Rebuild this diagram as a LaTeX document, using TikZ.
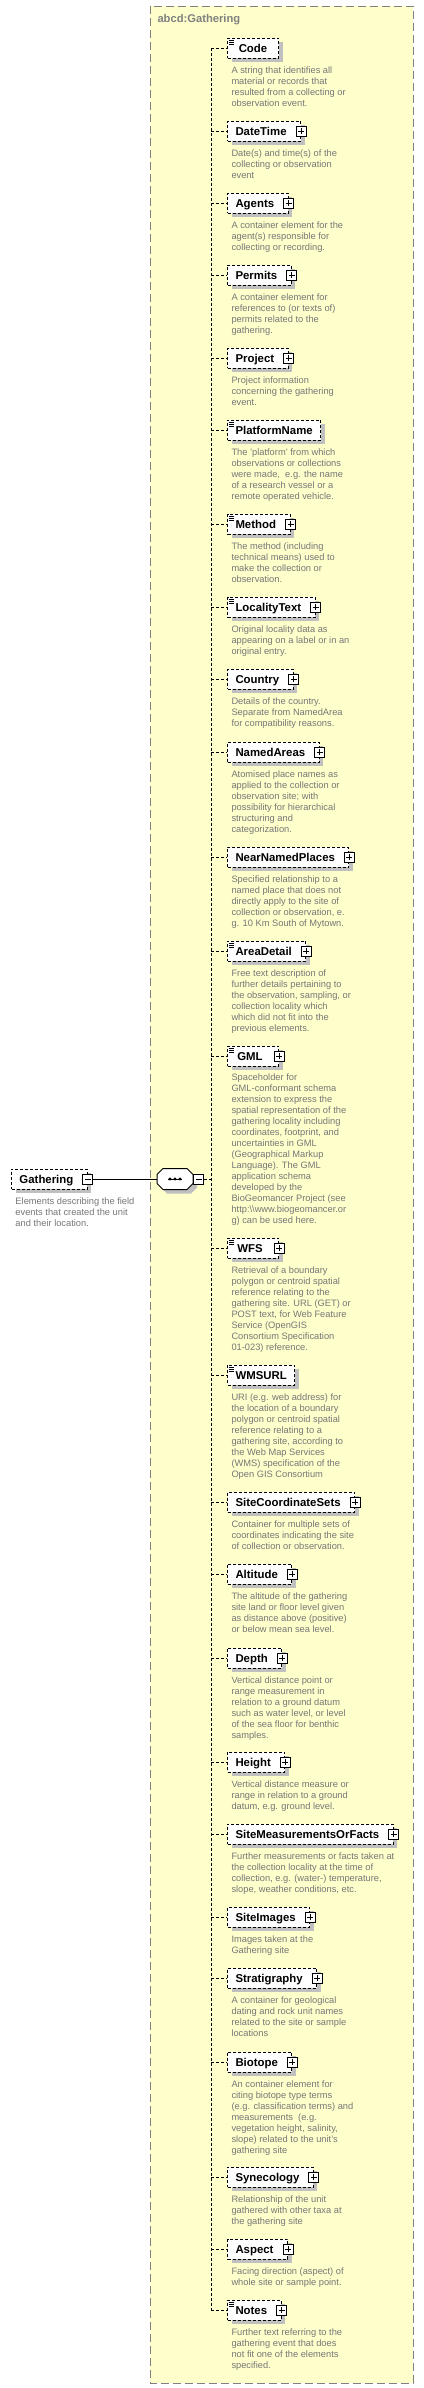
\documentclass[tikz,border=0pt]{standalone}
\usepackage{fontspec}
\setmainfont{Liberation Sans}
\usetikzlibrary{shadows}
\definecolor{boxyellow}{RGB}{255,255,204}
\definecolor{framegray}{RGB}{128,128,128}
\definecolor{descgray}{RGB}{118,118,118}
\definecolor{shadowgray}{RGB}{192,192,192}
\newcommand{\namefont}{\fontsize{11.4pt}{13pt}\selectfont\bfseries}
\newcommand{\descfont}{\fontsize{9.3pt}{11pt}\selectfont}
\begin{document}
\begin{tikzpicture}[x=1pt,y=-1pt,line width=1pt]
\tikzstyle{elembase}=[draw,dash pattern=on 3pt off 2pt,fill=white,anchor=west,minimum height=20pt,minimum width=51pt,inner sep=0pt,text height=8.5pt,text depth=0pt,font=\namefont,drop shadow={shadow xshift=4pt,shadow yshift=-4pt,fill=shadowgray,opacity=1},execute at begin node={\hspace*{8pt}}]
\tikzstyle{elem}=[elembase,execute at end node={\hspace*{8pt}}]
\tikzstyle{elemp}=[elembase,execute at end node={\hspace*{14pt}}]
\tikzstyle{simple}=[path picture={
  \draw[solid,line width=0.8pt] ([xshift=1pt,yshift=-2pt]path picture bounding box.north west) -- ++(5pt,0pt);
  \draw[solid,line width=0.8pt] ([xshift=1pt,yshift=-4pt]path picture bounding box.north west) -- ++(5pt,0pt);
  \draw[solid,line width=0.8pt] ([xshift=1pt,yshift=-6pt]path picture bounding box.north west) -- ++(5pt,0pt);}]
\tikzstyle{minusbox}=[draw,solid,fill=white,minimum size=10pt,inner sep=0pt,path picture={
  \draw[solid] ([xshift=2pt]path picture bounding box.west) -- ([xshift=-2pt]path picture bounding box.east);}]
\tikzstyle{plusbox}=[draw,solid,fill=white,minimum size=10pt,inner sep=0pt,path picture={
  \draw[solid] ([xshift=2pt]path picture bounding box.west) -- ([xshift=-2pt]path picture bounding box.east);
  \draw[solid] ([yshift=-2pt]path picture bounding box.north) -- ([yshift=2pt]path picture bounding box.south);}]
\tikzstyle{desc}=[anchor=north west,align=left,inner sep=0pt,text=descgray,font=\descfont,execute at begin node={\rule{0pt}{8pt}}]
\tikzstyle{branch}=[dash pattern=on 3pt off 2pt]
\tikzstyle{seq}=[minimum width=35pt,minimum height=20pt,inner sep=0pt,anchor=west]
\tikzstyle{title}=[anchor=base west,inner sep=0pt,text=framegray,font=\fontsize{11.2pt}{13pt}\selectfont\bfseries]

\useasboundingbox (0,0) rectangle (423,2388);
\draw[fill=boxyellow,draw=framegray,dash pattern=on 8pt off 4pt] (150,6) rectangle (413,2383);
\node[title] at (157,22.7) (title) {abcd:Gathering};

% the element itself
\node[elemp] at (11,1179) (gathering) {Gathering};
\node[minusbox] at (gathering.east) (gathering-m) {};
\node[desc] at (15,1197) (gathering-d) {Elements describing the field\\events that created the unit\\and their location.};

% sequence compositor
\node[seq] at (157,1179) (seq) {};
\fill[shadowgray,transform canvas={shift={(4pt,-4pt)}}] ([xshift=6pt]seq.north west) -- ([xshift=-6pt]seq.north east) -- ([yshift=-6pt]seq.north east) -- ([yshift=6pt]seq.south east) -- ([xshift=-6pt]seq.south east) -- ([xshift=6pt]seq.south west) -- ([yshift=6pt]seq.south west) -- ([yshift=-6pt]seq.north west) -- cycle;
\draw[fill=white] ([xshift=6pt]seq.north west) -- ([xshift=-6pt]seq.north east) -- ([yshift=-6pt]seq.north east) -- ([yshift=6pt]seq.south east) -- ([xshift=-6pt]seq.south east) -- ([xshift=6pt]seq.south west) -- ([yshift=6pt]seq.south west) -- ([yshift=-6pt]seq.north west) -- cycle;
\draw ([xshift=-7pt]seq.center) -- ([xshift=7pt]seq.center);
\fill ([xshift=-5pt]seq.center) circle (1.6pt);
\fill (seq.center) circle (1.6pt);
\fill ([xshift=5pt]seq.center) circle (1.6pt);
\node[minusbox,anchor=west] at (seq.east) (seq-m) {};

\coordinate (spine) at (211,1179);

% children
\node[elem,simple] at (227,48) (code) {Code};
\node[desc] at (231,66) (code-d) {A string that identifies all\\material or records that\\resulted from a collecting or\\observation event.};

\node[elemp] at (227,131) (datetime) {DateTime};
\node[plusbox] at (datetime.east) (datetime-p) {};
\node[desc] at (231,149) (datetime-d) {Date(s) and time(s) of the\\collecting or observation\\event};

\node[elemp] at (227,203) (agents) {Agents};
\node[plusbox] at (agents.east) (agents-p) {};
\node[desc] at (231,221) (agents-d) {A container element for the\\agent(s) responsible for\\collecting or recording.};

\node[elemp] at (227,275) (permits) {Permits};
\node[plusbox] at (permits.east) (permits-p) {};
\node[desc] at (231,293) (permits-d) {A container element for\\references to (or texts of)\\permits related to the\\gathering.};

\node[elemp] at (227,358) (project) {Project};
\node[plusbox] at (project.east) (project-p) {};
\node[desc] at (231,376) (project-d) {Project information\\concerning the gathering\\event.};

\node[elem,simple] at (227,430) (platformname) {PlatformName};
\node[desc] at (231,448) (platformname-d) {The 'platform' from which\\observations or collections\\were made,~ e.g. the name\\of a research vessel or a\\remote operated vehicle.};

\node[elemp,simple] at (227,524) (method) {Method};
\node[plusbox] at (method.east) (method-p) {};
\node[desc] at (231,542) (method-d) {The method (including\\technical means) used to\\make the collection or\\observation.};

\node[elemp,simple] at (227,607) (localitytext) {LocalityText};
\node[plusbox] at (localitytext.east) (localitytext-p) {};
\node[desc] at (231,625) (localitytext-d) {Original locality data as\\appearing on a label or in an\\original entry.};

\node[elemp] at (227,679) (country) {Country};
\node[plusbox] at (country.east) (country-p) {};
\node[desc] at (231,697) (country-d) {Details of the country.\\Separate from NamedArea\\for compatibility reasons.};

\node[elemp] at (227,752) (namedareas) {NamedAreas};
\node[plusbox] at (namedareas.east) (namedareas-p) {};
\node[desc] at (231,770) (namedareas-d) {Atomised place names as\\applied to the collection or\\observation site; with\\possibility for hierarchical\\structuring and\\categorization.};

\node[elemp] at (227,857) (nearnamedplaces) {NearNamedPlaces};
\node[plusbox] at (nearnamedplaces.east) (nearnamedplaces-p) {};
\node[desc] at (231,875) (nearnamedplaces-d) {Specified relationship to a\\named place that does not\\directly apply to the site of\\collection or observation, e.\\g. 10 Km South of Mytown.};

\node[elemp,simple] at (227,951) (areadetail) {AreaDetail};
\node[plusbox] at (areadetail.east) (areadetail-p) {};
\node[desc] at (231,969) (areadetail-d) {Free text description of\\further details pertaining to\\the observation, sampling, or\\collection locality which\\which did not fit into the\\previous elements.};

\node[elemp,simple] at (227,1056) (gml) {GML};
\node[plusbox] at (gml.east) (gml-p) {};
\node[desc] at (231,1073) (gml-d) {Spaceholder for\\GML-conformant schema\\extension to express the\\spatial representation of the\\gathering locality including\\coordinates, footprint, and\\uncertainties in GML\\(Geographical Markup\\Language). The GML\\application schema\\developed by the\\BioGeomancer Project (see\\http:\textbackslash\textbackslash www.biogeomancer.or\\g) can be used here.};

\node[elemp,simple] at (227,1248) (wfs) {WFS};
\node[plusbox] at (wfs.east) (wfs-p) {};
\node[desc] at (231,1266) (wfs-d) {Retrieval of a boundary\\polygon or centroid spatial\\reference relating to the\\gathering site. URL (GET) or\\POST text, for Web Feature\\Service (OpenGIS\\Consortium Specification\\01-023) reference.};

\node[elem,simple] at (227,1375) (wmsurl) {WMSURL};
\node[desc] at (231,1393) (wmsurl-d) {URI (e.g. web address) for\\the location of a boundary\\polygon or centroid spatial\\reference relating to a\\gathering site, according to\\the Web Map Services\\(WMS) specification of the\\Open GIS Consortium};

\node[elemp] at (227,1502) (sitecoordinatesets) {SiteCoordinateSets};
\node[plusbox] at (sitecoordinatesets.east) (sitecoordinatesets-p) {};
\node[desc] at (231,1520) (sitecoordinatesets-d) {Container for multiple sets of\\coordinates indicating the site\\of collection or observation.};

\node[elemp] at (227,1574) (altitude) {Altitude};
\node[plusbox] at (altitude.east) (altitude-p) {};
\node[desc] at (231,1592) (altitude-d) {The altitude of the gathering\\site land or floor level given\\as distance above (positive)\\or below mean sea level.};

\node[elemp] at (227,1658) (depth) {Depth};
\node[plusbox] at (depth.east) (depth-p) {};
\node[desc] at (231,1676) (depth-d) {Vertical distance point or\\range measurement in\\relation to a ground datum\\such as water level, or level\\of the sea floor for benthic\\samples.};

\node[elemp] at (227,1762) (height) {Height};
\node[plusbox] at (height.east) (height-p) {};
\node[desc] at (231,1780) (height-d) {Vertical distance measure or\\range in relation to a ground\\datum, e.g. ground level.};

\node[elemp] at (227,1834) (sitemeasurementsorfacts) {SiteMeasurementsOrFacts};
\node[plusbox] at (sitemeasurementsorfacts.east) (sitemeasurementsorfacts-p) {};
\node[desc] at (231,1852) (sitemeasurementsorfacts-d) {Further measurements or facts taken at\\the collection locality at the time of\\collection, e.g. (water-) temperature,\\slope, weather conditions, etc.};

\node[elemp] at (227,1917) (siteimages) {SiteImages};
\node[plusbox] at (siteimages.east) (siteimages-p) {};
\node[desc] at (231,1935) (siteimages-d) {Images taken at the\\Gathering site};

\node[elemp] at (227,1978) (stratigraphy) {Stratigraphy};
\node[plusbox] at (stratigraphy.east) (stratigraphy-p) {};
\node[desc] at (231,1996) (stratigraphy-d) {A container for geological\\dating and rock unit names\\related to the site or sample\\locations};

\node[elemp] at (227,2062) (biotope) {Biotope};
\node[plusbox] at (biotope.east) (biotope-p) {};
\node[desc] at (231,2080) (biotope-d) {An container element for\\citing biotope type terms\\(e.g. classification terms) and\\measurements~ (e.g.\\vegetation height, salinity,\\slope) related to the unit's\\gathering site};

\node[elemp] at (227,2177) (synecology) {Synecology};
\node[plusbox] at (synecology.east) (synecology-p) {};
\node[desc] at (231,2195) (synecology-d) {Relationship of the unit\\gathered with other taxa at\\the gathering site};

\node[elemp] at (227,2249) (aspect) {Aspect};
\node[plusbox] at (aspect.east) (aspect-p) {};
\node[desc] at (231,2267) (aspect-d) {Facing direction (aspect) of\\whole site or sample point.};

\node[elemp,simple] at (227,2310) (notes) {Notes};
\node[plusbox] at (notes.east) (notes-p) {};
\node[desc] at (231,2328) (notes-d) {Further text referring to the\\gathering event that does\\not fit one of the elements\\specified.};

% connectors
\draw (gathering-m.east) -- (seq.west);
\draw[branch] (seq-m.east) -- (spine);
\draw[branch] (spine |- code.west) -- (spine |- notes.west);
\draw[branch] (spine |- code.west) -- (code.west);
\draw[branch] (spine |- datetime.west) -- (datetime.west);
\draw[branch] (spine |- agents.west) -- (agents.west);
\draw[branch] (spine |- permits.west) -- (permits.west);
\draw[branch] (spine |- project.west) -- (project.west);
\draw[branch] (spine |- platformname.west) -- (platformname.west);
\draw[branch] (spine |- method.west) -- (method.west);
\draw[branch] (spine |- localitytext.west) -- (localitytext.west);
\draw[branch] (spine |- country.west) -- (country.west);
\draw[branch] (spine |- namedareas.west) -- (namedareas.west);
\draw[branch] (spine |- nearnamedplaces.west) -- (nearnamedplaces.west);
\draw[branch] (spine |- areadetail.west) -- (areadetail.west);
\draw[branch] (spine |- gml.west) -- (gml.west);
\draw[branch] (spine |- wfs.west) -- (wfs.west);
\draw[branch] (spine |- wmsurl.west) -- (wmsurl.west);
\draw[branch] (spine |- sitecoordinatesets.west) -- (sitecoordinatesets.west);
\draw[branch] (spine |- altitude.west) -- (altitude.west);
\draw[branch] (spine |- depth.west) -- (depth.west);
\draw[branch] (spine |- height.west) -- (height.west);
\draw[branch] (spine |- sitemeasurementsorfacts.west) -- (sitemeasurementsorfacts.west);
\draw[branch] (spine |- siteimages.west) -- (siteimages.west);
\draw[branch] (spine |- stratigraphy.west) -- (stratigraphy.west);
\draw[branch] (spine |- biotope.west) -- (biotope.west);
\draw[branch] (spine |- synecology.west) -- (synecology.west);
\draw[branch] (spine |- aspect.west) -- (aspect.west);
\draw[branch] (spine |- notes.west) -- (notes.west);
\end{tikzpicture}
\end{document}
